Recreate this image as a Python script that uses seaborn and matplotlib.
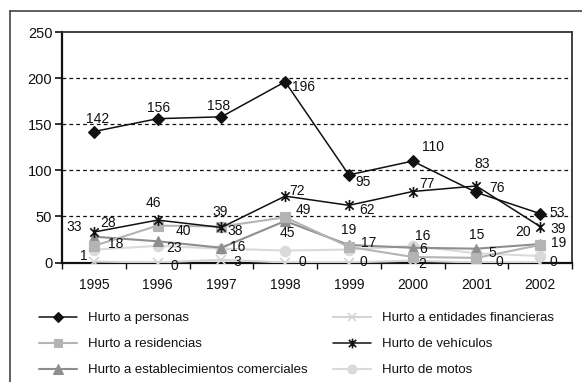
import matplotlib
matplotlib.use("Agg")
import matplotlib.pyplot as plt
from matplotlib.path import Path
from matplotlib.lines import Line2D
import seaborn as sns
import pandas as pd

sns.set_theme(style="white")
plt.rcParams["font.family"] = ["Liberation Sans Narrow", "Liberation Sans", "DejaVu Sans"]

years = [1995, 1996, 1997, 1998, 1999, 2000, 2001, 2002]

personas = [142, 156, 158, 196, 95, 110, 76, 53]
residencias = [18, 40, 39, 49, 17, 6, 5, 19]
comerciales = [28, 23, 16, 45, 19, 16, 15, 20]
financieras = [1, 0, 3, 0, 0, 2, 0, 0]
vehiculos = [33, 46, 38, 72, 62, 77, 83, 39]
motos = [14, 18, 15, 13, 14, 18, 10, 7]

names = [
    "Hurto a personas",
    "Hurto a residencias",
    "Hurto a establecimientos comerciales",
    "Hurto a entidades financieras",
    "Hurto de vehículos",
    "Hurto de motos",
]
values = [personas, residencias, comerciales, financieras, vehiculos, motos]

# asterisk marker: an "x" crossed by a vertical stroke
asterisk = Path(
    [(0, -1), (0, 1), (-0.75, -0.75), (0.75, 0.75), (-0.75, 0.75), (0.75, -0.75)],
    [Path.MOVETO, Path.LINETO] * 3,
)

styles = {
    "Hurto a personas": dict(color="#111111", marker="D", ms=6.5, mfc="#111111", mec="#111111", lw=1.1),
    "Hurto a residencias": dict(color="#b4b4b4", marker="s", ms=7, mfc="#b4b4b4", mec="#b4b4b4", lw=1.5),
    "Hurto a establecimientos comerciales": dict(color="#8e8e8e", marker="^", ms=7.5, mfc="#8e8e8e", mec="#8e8e8e", lw=1.5),
    "Hurto a entidades financieras": dict(color="#d4d4d4", marker="x", ms=6.5, mfc="none", mec="#d4d4d4", mew=1.2, lw=1.5),
    "Hurto de vehículos": dict(color="#111111", marker=asterisk, ms=8, mfc="none", mec="#111111", mew=1.2, lw=1.1),
    "Hurto de motos": dict(color="#dadada", marker="o", ms=7.5, mfc="#dadada", mec="#dadada", lw=1.5),
}

# label offsets in pixels (dx right, dy down) for each point
label_offsets = {
    "Hurto a personas": [(4, -13), (1, -11), (-3, -11), (18, 5), (14, 7), (20, -14), (21, -4), (17, -1)],
    "Hurto a residencias": [(22, -2), (26, 5), (-1, -15), (18, -7), (20, -4), (10, -8), (16, -5), (19, -2)],
    "Hurto a establecimientos comerciales": [(14, -14), (16, 7), (16, -1), (2, 12), (0, -15), (10, -12), (0, -14), (-17, -12)],
    "Hurto a entidades financieras": [(-10, -6), (17, 3), (16, 2), (17, 0), (15, 0), (10, 3), (23, 0), (13, 0)],
    "Hurto de vehículos": [(-20, -5), (-4, -17), (14, 4), (12, -5), (18, 5), (14, -8), (6, -22), (18, 2)],
    "Hurto de motos": None,
}

W, H = 582, 382
fig = plt.figure(figsize=(W / 100, H / 100), dpi=100)
fig.patch.set_facecolor("white")
ax = fig.add_axes([62 / W, 1 - 262.5 / H, (572 - 62) / W, (262.5 - 32) / H])
ax.set_facecolor("white")

# gridlines behind the series
for g in [50, 100, 150, 200]:
    ax.axhline(g, color="#111111", lw=0.9, ls=(0, (3, 2.5)), zorder=0)

order_draw = [5, 3, 2, 1, 4, 0]
for i in order_draw:
    name = names[i]
    df = pd.DataFrame({"year": years, "value": values[i]})
    st = styles[name]
    sns.lineplot(data=df, x="year", y="value", ax=ax, color=st["color"], lw=st["lw"],
                 marker=st["marker"], markersize=st["ms"], markerfacecolor=st["mfc"],
                 markeredgecolor=st["mec"], markeredgewidth=st.get("mew", 0.8),
                 legend=False, zorder=3 + order_draw.index(i))

for name, vals in zip(names, values):
    offs = label_offsets[name]
    if offs is None:
        continue
    for yr, v, (dx, dy) in zip(years, vals, offs):
        ax.annotate(str(v), (yr, v), xytext=(dx, -dy), textcoords="offset pixels",
                    ha="center", va="center", fontsize=10, color="#111111", zorder=20)

ax.set_xlim(1994.5, 2002.5)
ax.set_ylim(0, 250)
ax.set_yticks([0, 50, 100, 150, 200, 250])
ax.set_xticks(years)
ax.set_xticks([y + 0.5 for y in [1994] + years], minor=True)
ax.set_xticklabels([str(y) for y in years])
ax.set_xlabel("")
ax.set_ylabel("")
ax.tick_params(axis="y", which="major", left=True, length=5, width=1.2, color="#111111",
               labelsize=10.5, pad=2, labelcolor="#111111")
ax.tick_params(axis="x", which="major", bottom=False, labelsize=10, pad=5, labelcolor="#111111")
ax.tick_params(axis="x", which="minor", bottom=True, length=4, width=1.0, color="#111111")

for side in ["left", "bottom"]:
    ax.spines[side].set_color("#111111")
    ax.spines[side].set_linewidth(1.6)
for side in ["top", "right"]:
    ax.spines[side].set_color("#333333")
    ax.spines[side].set_linewidth(1.3)

# outer frame (left and top edges visible)
fig.add_artist(Line2D([10.5 / W, 10.5 / W], [0, 1 - 10.5 / H], transform=fig.transFigure,
                      color="#444444", lw=1.2))
fig.add_artist(Line2D([10.5 / W, 1], [1 - 10.5 / H, 1 - 10.5 / H], transform=fig.transFigure,
                      color="#444444", lw=1.2))

def legend_handle(name):
    st = styles[name]
    return Line2D([], [], color=st["color"], lw=st["lw"], marker=st["marker"], markersize=st["ms"] - 1,
                  markerfacecolor=st["mfc"], markeredgecolor=st["mec"], markeredgewidth=st.get("mew", 0.8))

common = dict(frameon=False, fontsize=9.5, handlelength=2.9, handletextpad=0.8,
              labelspacing=1.05, borderpad=0, borderaxespad=0, loc="upper left")
leg1 = fig.legend([legend_handle(n) for n in names[:3]], names[:3],
                  bbox_to_anchor=(39 / W, 1 - 312 / H), **common)
leg2 = fig.legend([legend_handle(n) for n in names[3:]], names[3:],
                  bbox_to_anchor=(333 / W, 1 - 312 / H), **common)
for leg in (leg1, leg2):
    for t in leg.get_texts():
        t.set_color("#111111")

fig.savefig("out.png", dpi=100)
